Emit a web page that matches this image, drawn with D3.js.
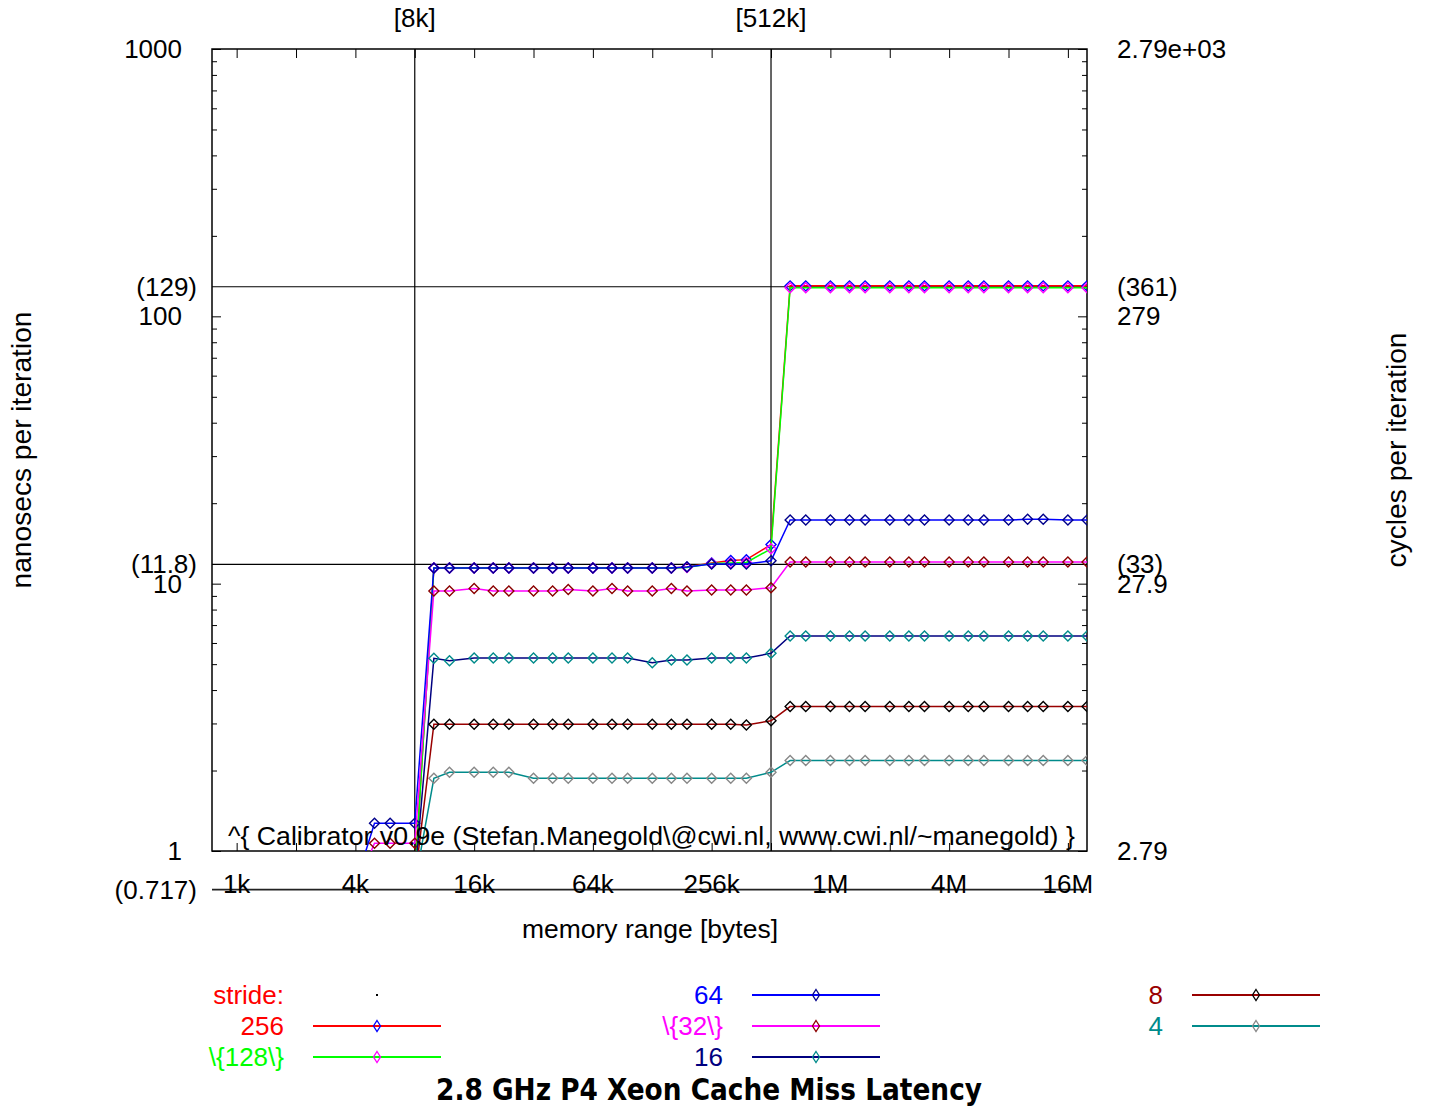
<!DOCTYPE html>
<html><head><meta charset="utf-8">
<script src="https://cdn.jsdelivr.net/npm/d3@7"></script>
<style>
body{margin:0;background:#fff}
text{font-family:"Liberation Sans",Arial,sans-serif;font-size:26px;fill:#000}
</style></head>
<body><svg id="c" width="1432" height="1111"></svg>
<script>
// ---------- data (memory range in KB, nanoseconds per iteration) ----------
const sizesKB = [4,5,6,8,10,12,16,20,24,32,40,48,64,80,96,128,160,192,256,320,384,512,
  640,768,1024,1280,1536,2048,2560,3072,4096,5120,6144,8192,10240,12288,16384,20480];
const s256 = [0.74,0.76,0.77,0.79, 11.45,11.45,11.45,11.45,11.45,11.45,11.45,11.45,11.45,11.45,11.45,11.45,11.45,11.55, 11.95,12.2,12.3,14.0,
  130,130,130,130,130,130,130,130,130,130,130,130,130,130,130,130];
const s128 = [0.74,0.75,0.76,0.78, 11.45,11.45,11.45,11.45,11.45,11.45,11.45,11.45,11.45,11.45,11.45,11.45,11.45,11.5, 11.9,11.95,12.0,13.5,
  128,128,128,128,128,128,128,128,128,128,128,128,128,128,128,128];
const s64 = [0.75,1.27,1.27,1.27, 11.45,11.45,11.45,11.45,11.45,11.45,11.45,11.45,11.45,11.45,11.45,11.45,11.45,11.55, 11.85,11.85,11.85,12.17,
  17.3,17.3,17.3,17.3,17.3,17.3,17.3,17.3,17.3,17.3,17.3,17.3,17.4,17.4,17.3,17.3];
const s32 = [0.72,1.07,1.07,1.07, 9.39,9.39,9.6,9.39,9.39,9.39,9.39,9.51,9.39,9.6,9.39,9.39,9.6,9.39, 9.47,9.47,9.47,9.66,
  12.05,12.05,12.05,12.05,12.05,12.05,12.05,12.05,12.05,12.05,12.05,12.05,12.05,12.05,12.05,12.05];
const s16 = [0.73,0.75,0.76,0.78, 5.26,5.15,5.27,5.27,5.27,5.27,5.27,5.27,5.27,5.27,5.27,5.06,5.18,5.18, 5.27,5.27,5.27,5.49,
  6.37,6.37,6.37,6.37,6.37,6.37,6.37,6.37,6.37,6.37,6.37,6.37,6.37,6.37,6.37,6.37];
const s8 = [0.72,0.74,0.75,0.77, 2.98,2.98,2.98,2.98,2.98,2.98,2.98,2.98,2.98,2.98,2.98,2.98,2.98,2.98, 2.98,2.98,2.96,3.07,
  3.47,3.47,3.47,3.47,3.47,3.47,3.47,3.47,3.47,3.47,3.47,3.47,3.47,3.47,3.47,3.47];
const s4 = [0.717,0.73,0.74,0.75, 1.87,1.97,1.97,1.97,1.97,1.87,1.87,1.87,1.87,1.87,1.87,1.87,1.87,1.87, 1.87,1.87,1.87,1.97,
  2.18,2.18,2.18,2.18,2.18,2.18,2.18,2.18,2.18,2.18,2.18,2.18,2.18,2.18,2.18,2.18];

const strideLabels = ["stride:","256","\\{128\\}","64","\\{32\\}","16","8","4"];
const lineColors   = ["#ff0000","#ff0000","#00ff00","#0000ff","#ff00ff","#000080","#990000","#008b8b"];
const markColors   = ["#000000","#0000ff","#ff00ff","#00008b","#8b0000","#008b8b","#000000","#888888"];
const seriesValues = [null,s256,s128,s64,s32,s16,s8,s4];

const xTickValues = [1,4,16,64,256,1024,4096,16384];
const xTickLabels = ["1k","4k","16k","64k","256k","1M","4M","16M"];
const xMinorTicks = [1,2,4,8,16,32,64,128,256,512,1024,2048,4096,8192,16384];
const cacheSizes  = [8,512];
const cacheLabels = ["[8k]","[512k]"];
const yMajor = [1,10,100,1000];
const yMajorLeft  = ["1","10","100","1000"];
const yMajorRight = ["2.79","27.9","279","2.79e+03"];
const latencies = [129,11.8];
const latLeft  = ["(129)","(11.8)"];
const latRight = ["(361)","(33)"];
const minValue = 0.717, minLabel = "(0.717)";
const titleText = "2.8 GHz P4 Xeon Cache Miss Latency";
const creditText = "^{ Calibrator v0.9e (Stefan.Manegold\\@cwi.nl, www.cwi.nl/~manegold) }";

// ---------- layout ----------
const L=212, R=1087, T=49, B=851;
const svg = d3.select("#c");
const x = d3.scaleLog().base(2).domain([0.75,20480]).range([L,R]);
const y = d3.scaleLog().domain([1,1000]).range([B,T]);

svg.append("clipPath").attr("id","clip").append("rect")
  .attr("x",L).attr("y",T).attr("width",R-L).attr("height",B-T);

function fitText(sel, base, target){
  const w = sel.node().getComputedTextLength();
  sel.style("font-size",(base*target/w).toFixed(2)+"px");
}

// ticks
const yMinor = [];
[1,10,100].forEach(d=>{for(let k=2;k<=9;k++) yMinor.push(d*k);});
function tickG(axis, tx, ty){
  const g = svg.append("g").attr("transform",`translate(${tx},${ty})`).call(axis);
  g.select(".domain").remove();
  g.selectAll("text").remove();
  g.selectAll("line").attr("stroke","#000").attr("stroke-width",1);
  return g;
}
tickG(d3.axisLeft(y).tickValues(yMajor).tickSize(-9), L, 0);
tickG(d3.axisLeft(y).tickValues(yMinor).tickSize(-5), L, 0);
tickG(d3.axisRight(y).tickValues(yMajor).tickSize(-9), R, 0);
tickG(d3.axisRight(y).tickValues(yMinor).tickSize(-5), R, 0);
tickG(d3.axisTop(x).tickValues(xMinorTicks).tickSize(-9), 0, T);
tickG(d3.axisBottom(x).tickValues(xMinorTicks).tickSize(-8), 0, B);

// grid lines (cache sizes / latencies)
svg.selectAll(".vg").data(cacheSizes).enter().append("line")
  .attr("x1",d=>x(d)).attr("x2",d=>x(d)).attr("y1",T).attr("y2",B)
  .attr("stroke","#000").attr("stroke-width",1.2);
svg.selectAll(".hg").data(latencies).enter().append("line")
  .attr("x1",L).attr("x2",R).attr("y1",d=>y(d)).attr("y2",d=>y(d))
  .attr("stroke","#000").attr("stroke-width",1.2);

// frame
svg.append("rect").attr("x",L).attr("y",T).attr("width",R-L).attr("height",B-T)
  .attr("fill","none").attr("stroke","#000").attr("stroke-width",1.5);
// baseline at minimum value
svg.append("line").attr("x1",L).attr("x2",R).attr("y1",y(minValue)).attr("y2",y(minValue))
  .attr("stroke","#222").attr("stroke-width",1.6);

// x tick labels
svg.selectAll(".xl").data(xTickValues).enter().append("text")
  .attr("x",d=>x(d)).attr("y",893).attr("text-anchor","middle").text((d,i)=>xTickLabels[i]);
// top cache labels
svg.selectAll(".cl").data(cacheSizes).enter().append("text")
  .attr("x",d=>x(d)).attr("y",27).attr("text-anchor","middle").text((d,i)=>cacheLabels[i]);
// left labels
svg.selectAll(".yl").data(yMajor).enter().append("text")
  .attr("x",182).attr("y",d=>y(d)+9).attr("text-anchor","end").text((d,i)=>yMajorLeft[i]);
svg.selectAll(".yll").data(latencies).enter().append("text")
  .attr("x",197).attr("y",d=>y(d)+9).attr("text-anchor","end").text((d,i)=>latLeft[i]);
svg.append("text").attr("x",197).attr("y",y(minValue)+9).attr("text-anchor","end").text(minLabel);
// right labels
svg.selectAll(".yr").data(yMajor).enter().append("text")
  .attr("x",1117).attr("y",d=>y(d)+9).text((d,i)=>yMajorRight[i]);
svg.selectAll(".yrl").data(latencies).enter().append("text")
  .attr("x",1117).attr("y",d=>y(d)+9).text((d,i)=>latRight[i]);

// axis titles
const yt1 = svg.append("text").attr("transform","translate(31,450) rotate(-90)").attr("text-anchor","middle").text("nanosecs per iteration");
fitText(yt1, 26, 277);
const yt2 = svg.append("text").attr("transform","translate(1406,450) rotate(-90)").attr("text-anchor","middle").text("cycles per iteration");
fitText(yt2, 26, 235);
const xt = svg.append("text").attr("x",650).attr("y",938).attr("text-anchor","middle").text("memory range [bytes]");
fitText(xt, 26, 256);

// series
const diamond = (cx,cy,hw,hh)=>`M${cx},${cy-hh}L${cx+hw},${cy}L${cx},${cy+hh}L${cx-hw},${cy}Z`;
const plot = svg.append("g").attr("clip-path","url(#clip)");
const lineGen = d3.line().x(d=>x(d[0])).y(d=>y(d[1]));
seriesValues.forEach((vals,i)=>{
  if(!vals) return;
  const pts = sizesKB.map((s,j)=>[s,vals[j]]);
  plot.append("path").attr("d",lineGen(pts)).attr("fill","none")
    .attr("stroke",lineColors[i]).attr("stroke-width",1.5);
  plot.selectAll(null).data(pts).enter().append("path")
    .attr("d",d=>diamond(x(d[0]),y(d[1]),5,5))
    .attr("fill","none").attr("stroke",markColors[i]).attr("stroke-width",1.4);
});

// credit text
const credit = svg.append("text").attr("x",228).attr("y",845).text(creditText);
fitText(credit, 26, 847);

// legend
const legCols = [284,723,1163], legRows=[995,1026,1057];
strideLabels.forEach((lab,i)=>{
  const cx = legCols[Math.floor(i/3)], cy = legRows[i%3];
  svg.append("text").attr("x",cx).attr("y",cy+9).attr("text-anchor","end")
    .style("fill",lineColors[i]).text(lab);
  const x1 = cx+29, x2 = cx+157, mx = (x1+x2)/2;
  if(i===0){
    svg.append("rect").attr("x",mx-1).attr("y",cy-1).attr("width",2).attr("height",2).attr("fill","#000");
  } else {
    svg.append("line").attr("x1",x1).attr("x2",x2).attr("y1",cy).attr("y2",cy)
      .attr("stroke",lineColors[i]).attr("stroke-width",1.8);
    svg.append("path").attr("d",diamond(mx,cy,3.5,5.5)).attr("fill","none")
      .attr("stroke",markColors[i]).attr("stroke-width",1.3);
  }
});

// title
const title = svg.append("text").attr("x",709).attr("y",1100).attr("text-anchor","middle")
  .style("font-family","'DejaVu Sans Condensed','DejaVu Sans',sans-serif")
  .style("font-weight","bold").style("font-size","29px").text(titleText);
fitText(title, 29, 546);
</script></body></html>
